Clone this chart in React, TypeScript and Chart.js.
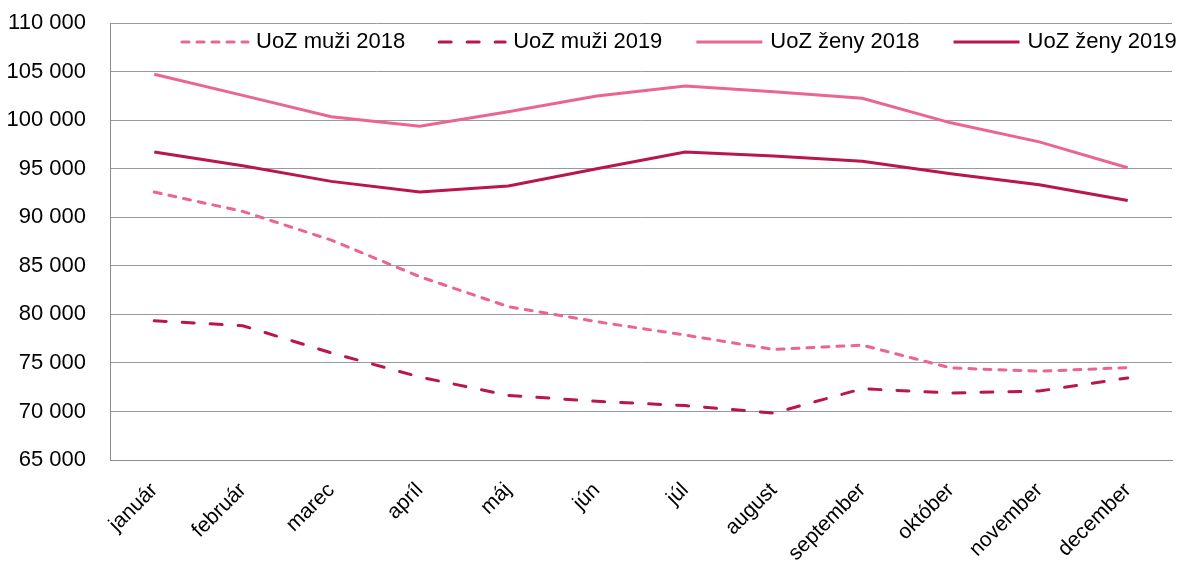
import React, { useEffect, useRef } from "react";
import { Chart, registerables } from "chart.js";

Chart.register(...registerables);

const months = ["január", "február", "marec", "apríl", "máj", "jún", "júl", "august", "september", "október", "november", "december"];
const muzi2018 = [92590, 90600, 87650, 83880, 80790, 79240, 77860, 76380, 76830, 74480, 74140, 74520];
const muzi2019 = [79340, 78830, 76030, 73550, 71650, 71050, 70600, 69830, 72340, 71900, 72100, 73450];
const zeny2018 = [104720, 102550, 100350, 99380, 100860, 102480, 103520, 102930, 102240, 99720, 97760, 95100];
const zeny2019 = [96720, 95300, 93690, 92590, 93210, 95000, 96720, 96310, 95760, 94480, 93340, 91720];
const seriesNames = ["UoZ muži 2018", "UoZ muži 2019", "UoZ ženy 2018", "UoZ ženy 2019"];

const LIGHT = "#EA6690";
const DARK = "#B9154E";
const FONT = "'Liberation Sans', Arial, sans-serif";

const fmt = (v: number) => String(v).replace(/\B(?=(\d{3})+(?!\d))/g, " ");

const legendPlugin = {
  id: "insideLegend",
  afterDatasetsDraw(chart: any) {
    const ctx = chart.ctx;
    ctx.save();
    ctx.font = `22px ${FONT}`;
    ctx.textBaseline = "middle";
    ctx.fillStyle = "#000";
    let x = 180;
    const y = 42;
    chart.data.datasets.forEach((ds: any) => {
      ctx.save();
      ctx.strokeStyle = ds.borderColor;
      ctx.lineWidth = ds.borderWidth;
      ctx.lineCap = ds.borderCapStyle || "butt";
      ctx.setLineDash(ds.borderDash || []);
      ctx.beginPath();
      ctx.moveTo(x + 2, y);
      ctx.lineTo(x + 68, y);
      ctx.stroke();
      ctx.restore();
      ctx.fillText(ds.label, x + 76, y);
      x += 76 + ctx.measureText(ds.label).width + 32;
    });
    ctx.restore();
  },
};

export default function App() {
  const ref = useRef<HTMLCanvasElement>(null);
  useEffect(() => {
    document.body.style.margin = "0";
    const chart = new Chart(ref.current!, {
      type: "line",
      data: {
        labels: months,
        datasets: [
          { label: seriesNames[0], data: muzi2018, borderColor: LIGHT, backgroundColor: LIGHT, borderWidth: 3, borderDash: [7, 8], borderCapStyle: "round" },
          { label: seriesNames[1], data: muzi2019, borderColor: DARK, backgroundColor: DARK, borderWidth: 3, borderDash: [12, 16], borderCapStyle: "round" },
          { label: seriesNames[2], data: zeny2018, borderColor: LIGHT, backgroundColor: LIGHT, borderWidth: 3 },
          { label: seriesNames[3], data: zeny2019, borderColor: DARK, backgroundColor: DARK, borderWidth: 3 },
        ] as any,
      },
      options: {
        responsive: false,
        animation: false,
        layout: { padding: { left: 0, right: 14, top: 23, bottom: 0 } },
        elements: { point: { radius: 0 }, line: { tension: 0 } },
        plugins: { legend: { display: false }, tooltip: { enabled: false } },
        scales: {
          x: {
            offset: true,
            grid: { display: false, drawTicks: false },
            border: { display: true, color: "#8C8C8C", width: 1 },
            ticks: { color: "#000", font: { family: FONT, size: 21 }, minRotation: 45, maxRotation: 45, padding: 18, autoSkip: false },
            afterFit: (s: any) => { s.height = 105; },
          },
          y: {
            min: 65000,
            max: 110000,
            grid: { color: "#9A9A9A", lineWidth: 1, drawTicks: true, tickLength: 24, tickColor: "rgba(0,0,0,0)" },
            border: { display: true, color: "#8C8C8C", width: 1 },
            ticks: { stepSize: 5000, color: "#000", font: { family: FONT, size: 22 }, padding: 0, callback: (v: any) => fmt(Number(v)) },
            afterFit: (s: any) => { s.width = 110; },
          },
        },
      },
      plugins: [legendPlugin],
    });
    return () => chart.destroy();
  }, []);
  return <canvas ref={ref} width={1186} height={565} style={{ display: "block" }} />;
}
